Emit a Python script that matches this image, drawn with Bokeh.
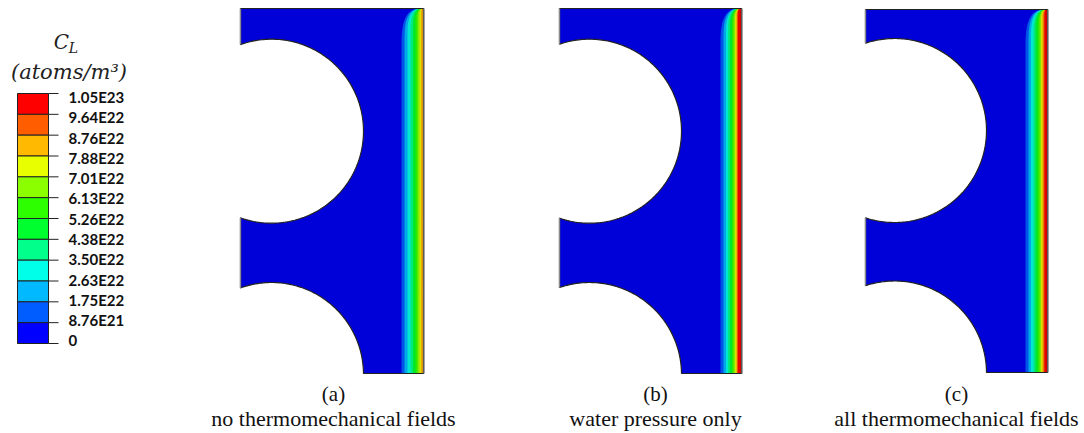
import numpy as np
from bokeh.plotting import figure
from bokeh.embed import file_html
from bokeh.resources import INLINE
from bokeh.core.properties import value
from bokeh.models import Range1d

# ---- data ----
level_labels = ["1.05E23", "9.64E22", "8.76E22", "7.88E22", "7.01E22", "6.13E22",
                "5.26E22", "4.38E22", "3.50E22", "2.63E22", "1.75E22", "8.76E21", "0"]
level_colors = ["#ff0000", "#ff5d00", "#ffb900", "#e8ff00", "#8bff00", "#2eff00",
                "#00ff2e", "#00ff8b", "#00ffe8", "#00b9ff", "#005dff", "#0000ff"]
shaded_colors = ["#e80000", "#e85400", "#e8a800", "#d8e400", "#80e800", "#2ae800",
                 "#00e82a", "#00e880", "#00e8d4", "#00a8e8", "#0054e8", "#0000d8"]
panel_captions = ["(a)", "(b)", "(c)"]
panel_names = ["no thermomechanical fields", "water pressure only", "all thermomechanical fields"]
# contour positions (image px) from the lowest band upward
contours_a = [401, 404, 407, 410, 412.5, 415, 417, 419, 420.5]
contours_b = [720, 723, 725.5, 727.5, 729.5, 731.5, 733, 734.5, 735.8, 736.6, 737.4]
contours_c = [1025, 1028, 1030.5, 1033, 1035, 1037, 1039, 1040.5, 1041.8, 1043, 1044]
panel_contours = [contours_a, contours_b, contours_c]
# left, right, top, bottom, hole right edge, upper hole centre y, lower hole centre y
panel_left = [240, 559, 865]
panel_right = [423, 741, 1047]
panel_top = [8, 8, 9]
panel_bottom = [373, 373, 372]
hole_right = [363, 681, 986]
hole_upper_y = [130.7, 130.7, 130]
hole_lower_y = [374, 374, 372.5]
caption_x = [333, 655, 956]
hole_radius = 92

W, H = 1084, 433
p = figure(width=W, height=H, output_backend="svg", toolbar_location=None,
           x_range=Range1d(0, W), y_range=Range1d(H, 0), min_border=0)
p.axis.visible = False
p.grid.visible = False
p.outline_line_color = None
p.background_fill_color = "white"


def plate(i):
    L, R, T, B = panel_left[i], panel_right[i], panel_top[i], panel_bottom[i]
    hr, yu, yl = hole_right[i], hole_upper_y[i], hole_lower_y[i]
    cx = hr - hole_radius
    xs, ys = [L, R, R, hr], [T, T, B, B]
    a0 = np.arcsin(np.clip((B - yl) / hole_radius, -1, 1))
    a1 = -np.pi + np.arccos((cx - L) / hole_radius)
    t = np.linspace(a0, a1, 90)
    xs += list(cx + hole_radius * np.cos(t)); ys += list(yl + hole_radius * np.sin(t))
    a2 = np.pi - np.arccos((cx - L) / hole_radius)
    t = np.linspace(a2, -a2, 180)
    xs += list(cx + hole_radius * np.cos(t)); ys += list(yu + hole_radius * np.sin(t))
    return xs, ys


def band(i, xk):
    R, T, B = panel_right[i], panel_top[i], panel_bottom[i]
    w = R - xk
    h = 1.8 * w
    t = np.linspace(0, np.pi / 2, 40)
    xs = xk + w * (1 - np.cos(t) ** (2 / 3))
    ys = T + h - h * np.sin(t) ** (2 / 3)
    return [xk] + list(xs) + [R, R], [B] + list(ys) + [T, B]


for i in range(3):
    xs, ys = plate(i)
    p.patch(xs, ys, fill_color=shaded_colors[-1], line_color=None)
    for k, xk in enumerate(panel_contours[i]):
        bx, by = band(i, xk)
        p.patch(bx, by, fill_color=shaded_colors[-2 - k], line_color=None)
    p.patch(xs, ys, fill_color=None, line_color="#222222", line_width=1.2)
    # straight side edges read grey in the reference
    chord = np.sqrt(hole_radius ** 2 - (hole_right[i] - hole_radius - panel_left[i]) ** 2)
    L, R = panel_left[i], panel_right[i]
    p.segment(x0=[L, L, R + 0.6], x1=[L, L, R + 0.6],
              y0=[panel_top[i], hole_upper_y[i] + chord, panel_top[i]],
              y1=[hole_upper_y[i] - chord, hole_lower_y[i] - chord, panel_bottom[i]],
              line_color="#8a8a8a", line_width=1.3)
    p.text([caption_x[i]], [393], text=[panel_captions[i]], text_align="center", text_baseline="middle",
           text_font=value("Liberation Serif"), text_font_size="21px", text_color="#111111")
    p.text([caption_x[i]], [418], text=[panel_names[i]], text_align="center", text_baseline="middle",
           text_font=value("Liberation Serif"), text_font_size="22px", text_color="#111111")

# ---- colour legend ----
bar_left, bar_right, bar_top, bar_bottom = 17, 48, 93, 343
cell = (bar_bottom - bar_top) / len(level_colors)
tops = [bar_top + j * cell for j in range(len(level_colors))]
p.quad(left=bar_left, right=bar_right, top=tops, bottom=[t + cell for t in tops],
       fill_color=level_colors, line_color="#222222", line_width=1)
tick_y = [bar_top + j * cell for j in range(len(level_labels))]
p.segment(x0=bar_right, x1=58, y0=tick_y, y1=tick_y, line_color="#222222", line_width=1)
label_y = [96.5 + j * 20.28 for j in range(len(level_labels))]
p.text(x=[68] * len(level_labels), y=label_y, text=level_labels, text_baseline="middle",
       text_font=value("Lato"), text_font_style="bold", text_font_size="15px", text_color="#111111")
p.text([61], [41], text=["C"], text_align="center", text_baseline="middle", text_font=value("DejaVu Serif"),
       text_font_style="italic", text_font_size="20px", text_color="#222222")
p.text([73], [47], text=["L"], text_align="center", text_baseline="middle", text_font=value("DejaVu Serif"),
       text_font_style="italic", text_font_size="14px", text_color="#222222")
p.text([68.5], [71], text=["(atoms/m³)"], text_align="center", text_baseline="middle",
       text_font=value("DejaVu Serif"), text_font_style="italic", text_font_size="21px", text_color="#222222")

open("out.html", "w").write(file_html(p, INLINE))
